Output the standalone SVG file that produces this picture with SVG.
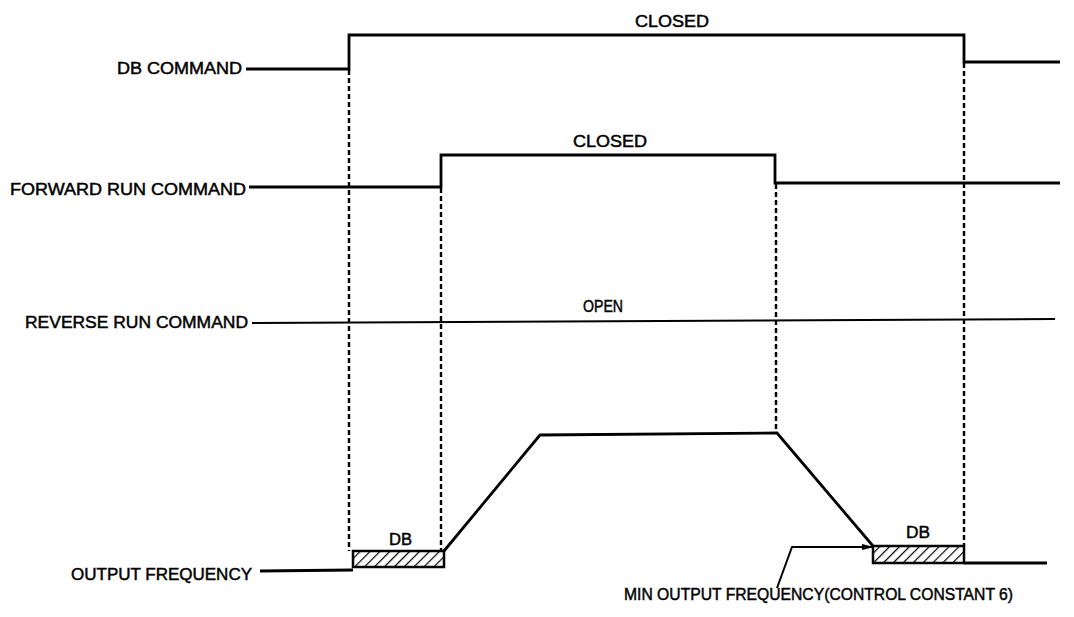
<svg xmlns="http://www.w3.org/2000/svg" width="1074" height="617" viewBox="0 0 1074 617">
<style>
.lbl{font-family:"Liberation Sans",Arial,sans-serif;font-size:16px;fill:#000;stroke:#000;stroke-width:0.45}
.sig{fill:none;stroke:#000;stroke-width:2.8;stroke-linejoin:miter}
.lead{fill:none;stroke:#000;stroke-width:2}
.dash{fill:none;stroke:#000;stroke-width:2.4;stroke-dasharray:5 3}
.hatch{fill:url(#h);stroke:#000;stroke-width:2.5}
</style>
<defs>
<pattern id="h" patternUnits="userSpaceOnUse" width="7" height="7" patternTransform="rotate(45)">
<rect width="7" height="7" fill="#fff"/>
<line x1="0" y1="0" x2="0" y2="7" stroke="#000" stroke-width="2.4"/>
</pattern>
<marker id="arr" markerWidth="12" markerHeight="8" refX="11" refY="4" orient="auto" markerUnits="userSpaceOnUse">
<path d="M0,1 L12,4 L0,7 Z" fill="#000"/>
</marker>
</defs>
<rect width="1074" height="617" fill="#fff"/>
<g id="connectors">
<line class="dash" x1="349" y1="70" x2="349" y2="551"/>
<line class="dash" x1="441" y1="188" x2="441" y2="551"/>
<line class="dash" x1="776" y1="184" x2="776" y2="433"/>
<line class="dash" x1="964" y1="63" x2="964" y2="546"/>
<polyline class="lead" points="777,588 792,547 873,547" marker-end="url(#arr)"/>
</g>
<g id="db-command">
<text class="lbl" x="117" y="74" textLength="125" lengthAdjust="spacingAndGlyphs">DB COMMAND</text>
<polyline class="sig" points="246,69 349,69 349,35 964,35 964,62 1060,62"/>
<text class="lbl" x="635" y="27" textLength="74" lengthAdjust="spacingAndGlyphs">CLOSED</text>
</g>
<g id="forward-run-command">
<text class="lbl" x="10" y="195" textLength="236" lengthAdjust="spacingAndGlyphs">FORWARD RUN COMMAND</text>
<polyline class="sig" points="249,187 441,187 441,155 775,155 775,183 1060,183"/>
<text class="lbl" x="573" y="147" textLength="74" lengthAdjust="spacingAndGlyphs">CLOSED</text>
</g>
<g id="reverse-run-command">
<text class="lbl" x="25" y="328" textLength="223" lengthAdjust="spacingAndGlyphs">REVERSE RUN COMMAND</text>
<line class="lead" x1="252" y1="323" x2="1055" y2="319" stroke-width="2.2"/>
<text class="lbl" x="583" y="312" textLength="40" lengthAdjust="spacingAndGlyphs">OPEN</text>
</g>
<g id="output-frequency">
<text class="lbl" x="71" y="580" textLength="181" lengthAdjust="spacingAndGlyphs">OUTPUT FREQUENCY</text>
<polyline class="sig" points="260,571 353,570"/>
<rect class="hatch" x="353" y="551" width="91" height="16"/>
<text class="lbl" x="389" y="545" textLength="23" lengthAdjust="spacingAndGlyphs">DB</text>
<polyline class="sig" points="444,551 540,435 777,433 873,546"/>
<rect class="hatch" x="873" y="546" width="91" height="17"/>
<text class="lbl" x="906" y="538" textLength="24" lengthAdjust="spacingAndGlyphs">DB</text>
<polyline class="sig" points="964,563 1047,563"/>
</g>
<g id="min-output-frequency">
<text class="lbl" x="624" y="600" textLength="389" lengthAdjust="spacingAndGlyphs">MIN OUTPUT FREQUENCY(CONTROL CONSTANT 6)</text>
</g>
</svg>
